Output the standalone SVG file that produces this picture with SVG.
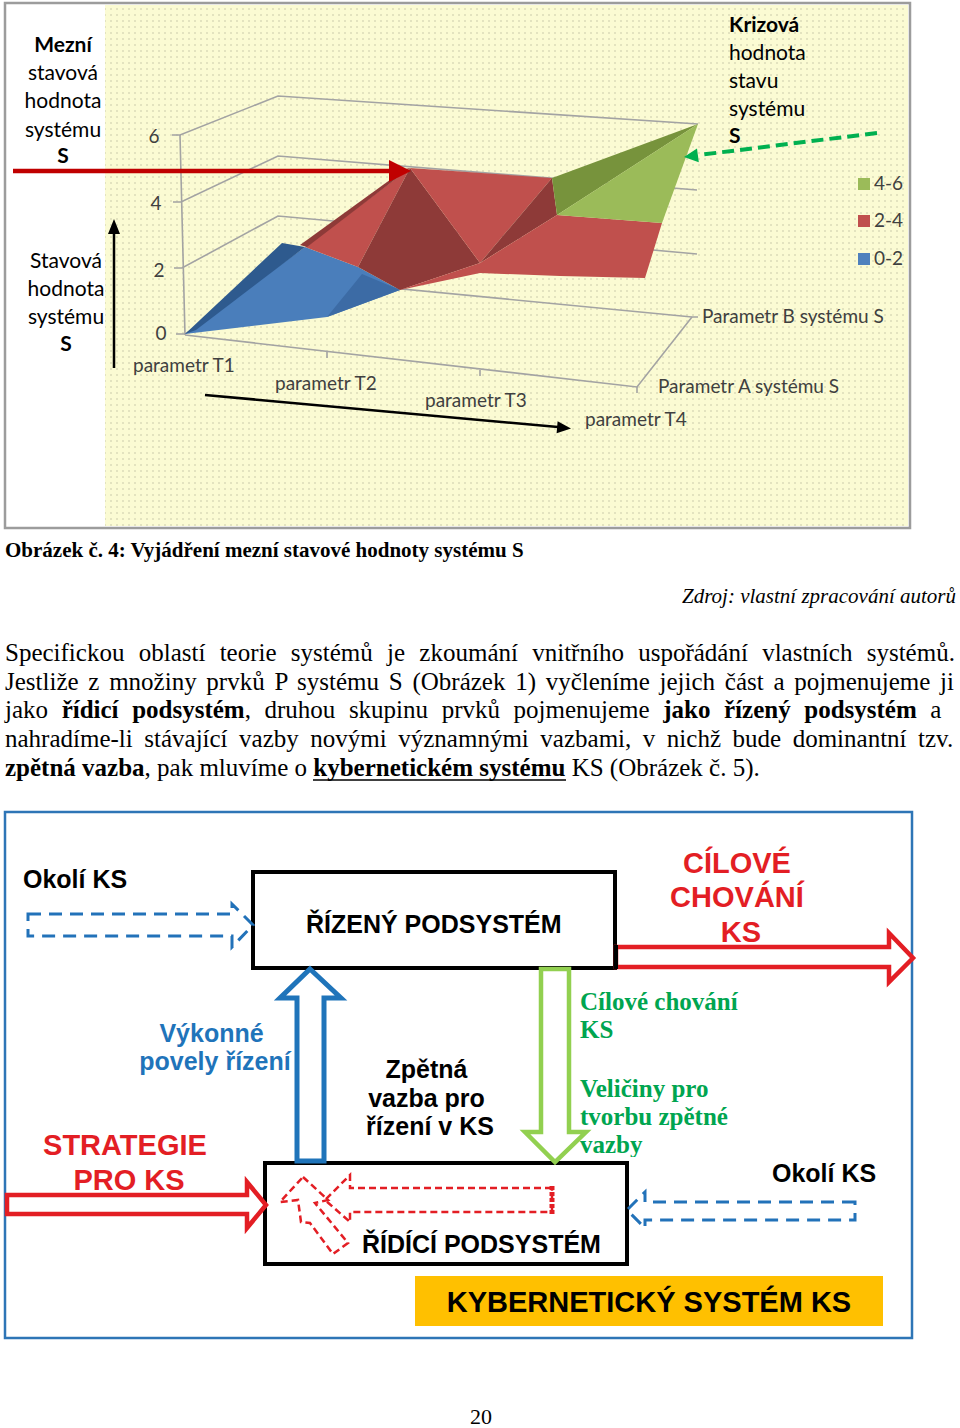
<svg xmlns="http://www.w3.org/2000/svg" width="960" height="1428" viewBox="0 0 960 1428">
<defs>
  <pattern id="dots" width="6" height="6" patternUnits="userSpaceOnUse">
    <rect width="6" height="6" fill="#FBFBD3"/>
    <circle cx="3" cy="3" r="0.8" fill="#C6C6A6"/>
  </pattern>
  <clipPath id="clipGreen"><rect x="570" y="980" width="220" height="177"/></clipPath>
</defs>
<style>
  .cal{font-family:Lato,"Open Sans","DejaVu Sans",sans-serif;}
  .lbl{font-size:21px;fill:#000;text-anchor:middle;}
  .ax{font-size:19px;fill:#404040;}
  .grid{stroke:#A3A3A3;stroke-width:1.6;fill:none;}
  .p{font-family:"Liberation Serif","Times New Roman",serif;font-size:25px;fill:#000;}
  .ar{font-family:"Liberation Sans",Arial,sans-serif;font-weight:bold;}
  .t25{font-size:25px;}
  .t29{font-size:29px;}
  .box{fill:#fff;stroke:#000;stroke-width:4;}
  .bdash{fill:none;stroke:#2272B9;stroke-width:3;stroke-dasharray:13 8;}
  .rdash{fill:none;stroke:#E31E24;stroke-width:2.5;stroke-dasharray:7 4;}
  .gtxt{font-family:"Liberation Serif","Times New Roman",serif;font-weight:bold;font-size:25px;fill:#00A550;}
</style>

<!-- ============ CHART ============ -->
<g id="chart">
  <rect x="5" y="3" width="905" height="525" fill="#fff" stroke="#9C9C9C" stroke-width="2.5"/>
  <rect x="105" y="5" width="803" height="521" fill="url(#dots)"/>

  <g id="chart-grid">
    <polyline class="grid" points="172,135 180,135 278,96 698,124"/>
    <polyline class="grid" points="173,202 181,202 278,156 697,190"/>
    <polyline class="grid" points="174,268 182,268 278,216 697,254"/>
    <polyline class="grid" points="176,334 185,334 278,277 692,317 698,317"/>
    <line class="grid" x1="180" y1="135" x2="185" y2="335"/>
    <polyline class="grid" points="185,335 637,387 692,317"/>
    <line class="grid" x1="327" y1="352" x2="327" y2="358"/>
    <line class="grid" x1="480" y1="370" x2="480" y2="376"/>
    <line class="grid" x1="637" y1="387" x2="637" y2="393"/>
  </g>

  <g id="surface">
    <polygon points="185,334 305,247 358,267 400,290 327,317" fill="#4A7EBB"/>
    <polygon points="327,317 400,290 362,274" fill="#3C6BA5"/>
    <polygon points="185,334 282,243 305,247 196,330" fill="#2E5A8E"/>
    <polygon points="305,247 410,168 358,267" fill="#C0504D"/>
    <polygon points="300,245 405,169 410,168 307,247" fill="#8E3A38"/>
    <polygon points="410,168 358,267 400,290 480,263" fill="#8E3A38"/>
    <polygon points="410,168 552,178 480,263" fill="#C0504D"/>
    <polygon points="552,178 557,215 480,263" fill="#8E3A38"/>
    <polygon points="480,263 557,215 662,223 645,278 560,276 480,273 400,290" fill="#C0504D"/>
    <polygon points="552,178 698,124 557,215" fill="#77933C"/>
    <polygon points="557,215 698,124 662,223" fill="#9BBB59"/>
  </g>

  <g id="chart-axis-labels" class="cal ax">
    <text x="154" y="143" text-anchor="middle">6</text>
    <text x="156" y="210" text-anchor="middle">4</text>
    <text x="159" y="277" text-anchor="middle">2</text>
    <text x="161" y="340" text-anchor="middle">0</text>
    <text x="133" y="372">parametr T1</text>
    <text x="275" y="390">parametr T2</text>
    <text x="425" y="407">parametr T3</text>
    <text x="585" y="426">parametr T4</text>
    <text x="702" y="323">Parametr B systému S</text>
    <text x="658" y="393">Parametr A systému S</text>
  </g>

  <g id="legend" class="cal ax">
    <rect x="858" y="178" width="12" height="12" fill="#9BBB59"/>
    <rect x="858" y="215" width="12" height="12" fill="#C0504D"/>
    <rect x="858" y="253" width="12" height="12" fill="#4F81BD"/>
    <text x="874" y="190">4-6</text>
    <text x="874" y="227">2-4</text>
    <text x="874" y="265">0-2</text>
  </g>

  <g id="label-mezni" class="cal lbl">
    <text x="63" y="52" font-weight="bold">Mezní</text>
    <text x="63" y="80">stavová</text>
    <text x="63" y="108">hodnota</text>
    <text x="63" y="137">systému</text>
    <text x="63" y="163" font-weight="bold">S</text>
  </g>

  <g id="label-stavova" class="cal lbl">
    <text x="66" y="268">Stavová</text>
    <text x="66" y="296">hodnota</text>
    <text x="66" y="324">systému</text>
    <text x="66" y="351" font-weight="bold">S</text>
  </g>

  <g id="label-krizova" class="cal" font-size="21">
    <text x="729" y="32" font-weight="bold">Krizová</text>
    <text x="729" y="60">hodnota</text>
    <text x="729" y="88">stavu</text>
    <text x="729" y="116">systému</text>
    <text x="729" y="143" font-weight="bold">S</text>
  </g>

  <g id="chart-connectors">
    <line x1="13" y1="171" x2="392" y2="171" stroke="#C00000" stroke-width="4.5"/>
    <polygon points="389,160 411,171 389,182" fill="#C00000"/>
    <line x1="114" y1="368" x2="114" y2="232" stroke="#000" stroke-width="2.5"/>
    <polygon points="108,234 114,219 120,234" fill="#000"/>
    <line x1="205" y1="395" x2="558" y2="427" stroke="#000" stroke-width="2.5"/>
    <polygon points="557.6,421.2 571,428.5 556.6,433.2" fill="#000"/>
    <line x1="877" y1="133" x2="699" y2="155" stroke="#00B050" stroke-width="4" stroke-dasharray="12 6"/>
    <polygon points="698.8,162.2 684,157 697,148.4" fill="#00B050"/>
  </g>
</g>

<!-- ============ CAPTION & TEXT ============ -->
<g id="caption">
  <text x="5" y="557" font-family="Liberation Serif, Times New Roman, serif" font-weight="bold" font-size="21">Obrázek č. 4: Vyjádření mezní stavové hodnoty systému S</text>
  <text x="956" y="603" text-anchor="end" font-family="Liberation Serif, Times New Roman, serif" font-style="italic" font-size="21">Zdroj: vlastní zpracování autorů</text>
</g>

<g id="paragraph">
  <text class="p" x="5" y="661" word-spacing="8.03">Specifickou oblastí teorie systémů je zkoumání vnitřního uspořádání vlastních systémů.</text>
  <text class="p" x="5" y="689.5" word-spacing="3.48">Jestliže z množiny prvků P systému S (Obrázek 1) vyčleníme jejich část a pojmenujeme ji</text>
  <text class="p" x="5" y="718" word-spacing="7.33">jako <tspan font-weight="bold">řídicí podsystém</tspan>, druhou skupinu prvků pojmenujeme <tspan font-weight="bold">jako řízený podsystém</tspan> a</text>
  <text class="p" x="5" y="747" word-spacing="5.29">nahradíme-li stávající vazby novými významnými vazbami, v nichž bude dominantní tzv.</text>
  <text class="p" x="5" y="776"><tspan font-weight="bold">zpětná vazba</tspan>, pak mluvíme o <tspan font-weight="bold">kybernetickém systému</tspan> KS (Obrázek č. 5).</text>
  <line x1="313" y1="780" x2="566" y2="780" stroke="#000" stroke-width="1.6"/>
</g>

<!-- ============ KS DIAGRAM ============ -->
<g id="ks-frame">
  <rect x="5" y="812" width="907" height="526" fill="#fff" stroke="#2E75B6" stroke-width="2.5"/>
</g>

<g id="node-rizeny">
  <rect class="box" x="253" y="872" width="362" height="96"/>
  <text class="ar t25" x="306" y="933">ŘÍZENÝ PODSYSTÉM</text>
</g>

<g id="node-ridici">
  <rect class="box" x="265" y="1163" width="362" height="101"/>
  <text class="ar t25" x="362" y="1253">ŘÍDÍCÍ PODSYSTÉM</text>
</g>

<g id="node-ks">
  <rect x="415" y="1276" width="468" height="50" fill="#FFC000"/>
  <text class="ar t29" x="649" y="1312" text-anchor="middle">KYBERNETICKÝ SYSTÉM KS</text>
</g>

<g id="connectors">
  <polygon class="bdash" points="28,914 232,914 232,904 253,925 232,947 232,936 28,936"/>
  <polygon points="616,947 889,947 889,933 913,958 889,982 889,967 616,967" fill="#fff" stroke="#E31E24" stroke-width="4.5" stroke-linejoin="miter"/>
  <polygon points="310,969 341,998 324,998 324,1161 297,1161 297,998 280,998" fill="#fff" stroke="#1F74BA" stroke-width="5"/>
  <polygon points="541,969 569,969 569,1132 586,1132 555,1162 525,1132 541,1132" fill="#fff" stroke="#92D050" stroke-width="4.5"/>
  <polygon points="7,1195 247,1195 247,1182 266,1205 247,1228 247,1214 7,1214" fill="#fff" stroke="#E31E24" stroke-width="4.5"/>
  <polygon class="rdash" points="552,1188 350,1188 350,1175 325,1200 350,1222 350,1212 552,1212"/>
  <line x1="552" y1="1186" x2="552" y2="1214" stroke="#E31E24" stroke-width="5" stroke-dasharray="4 2"/>
  <polygon class="rdash" points="303,1177 328,1200 315,1203 348,1243 333,1254 310,1223 301,1222 298,1200 280,1202"/>
  <polygon class="bdash" points="855,1202 645,1202 645,1192 627,1210 645,1228 645,1220 855,1220"/>
  <line x1="616" y1="945" x2="616" y2="969" stroke="#000" stroke-width="4"/>
</g>

<g id="node-okoli-top">
  <text class="ar t25" x="23" y="888">Okolí KS</text>
</g>

<g id="node-cilove">
  <text class="ar t29" fill="#E31E24" text-anchor="middle">
    <tspan x="741" y="873">CÍLOVÉ</tspan>
    <tspan x="741" y="907">CHOVÁNÍ</tspan>
    <tspan x="741" y="942">KS</tspan>
  </text>
</g>

<g id="node-vykonne">
  <text class="ar t25" fill="#1F74BA" text-anchor="middle">
    <tspan x="215" y="1042">Výkonné</tspan>
    <tspan x="215" y="1070">povely řízení</tspan>
  </text>
</g>

<g id="node-zpetna">
  <text class="ar t25" fill="#000" text-anchor="middle">
    <tspan x="430" y="1078">Zpětná</tspan>
    <tspan x="430" y="1107">vazba pro</tspan>
    <tspan x="430" y="1135">řízení v KS</tspan>
  </text>
</g>

<g id="node-green-text" clip-path="url(#clipGreen)">
  <text class="gtxt">
    <tspan x="580" y="1010">Cílové chování</tspan>
    <tspan x="580" y="1038">KS</tspan>
    <tspan x="580" y="1097">Veličiny pro</tspan>
    <tspan x="580" y="1125">tvorbu zpětné</tspan>
    <tspan x="580" y="1153">vazby</tspan>
  </text>
</g>

<g id="node-strategie">
  <text class="ar t29" fill="#E31E24" text-anchor="middle">
    <tspan x="129" y="1155">STRATEGIE</tspan>
    <tspan x="129" y="1190">PRO KS</tspan>
  </text>
</g>

<g id="node-okoli-bottom">
  <text class="ar t25" x="772" y="1182">Okolí KS</text>
</g>

<g id="page-number">
  <text x="481" y="1424" text-anchor="middle" font-family="Liberation Serif, Times New Roman, serif" font-size="22">20</text>
</g>
</svg>
